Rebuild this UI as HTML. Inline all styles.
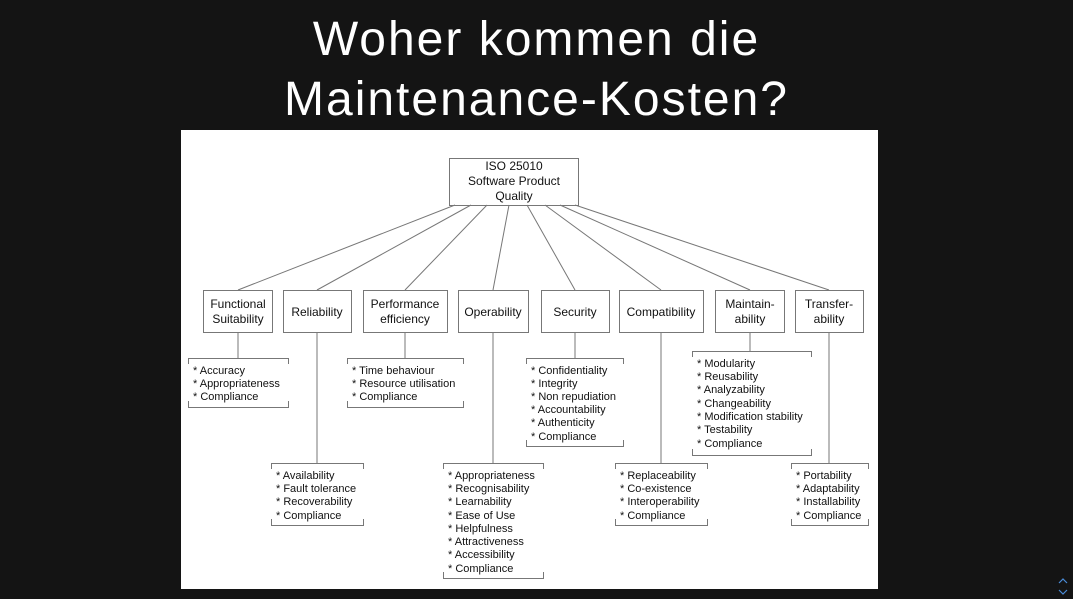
<!DOCTYPE html>
<html><head><style>
body{margin:0;width:1073px;height:599px;background:#141414;overflow:hidden;font-family:"Liberation Sans",sans-serif;}
.t{position:absolute;left:0;width:1073px;text-align:center;color:#fff;font-size:48px;letter-spacing:2px}
</style></head><body>
<div class="t" style="top:12px">Woher kommen die</div>
<div class="t" style="top:72px">Maintenance-Kosten?</div>
<svg style="position:absolute;left:0;top:0" width="1073" height="599" font-family="Liberation Sans, sans-serif">
<rect x="181" y="130" width="697" height="459" fill="#fff"/>
<g stroke="#777" stroke-width="1" fill="none">
<rect x="449.5" y="158.5" width="129" height="47"/>
<rect x="203.5" y="290.5" width="69" height="42"/>
<rect x="283.5" y="290.5" width="68" height="42"/>
<rect x="363.5" y="290.5" width="84" height="42"/>
<rect x="458.5" y="290.5" width="70" height="42"/>
<rect x="541.5" y="290.5" width="68" height="42"/>
<rect x="619.5" y="290.5" width="84" height="42"/>
<rect x="715.5" y="290.5" width="69" height="42"/>
<rect x="795.5" y="290.5" width="68" height="42"/>
<path d="M455 205L238 290M471 205L317 290M487 205L405 290M509 205L493 290M527 205L575 290M545 205L661 290M560 205L750 290M575 205L829 290"/>
<path d="M238 333V358M317 333V463M405 333V358M493 333V463M575 333V358M661 333V463M750 333V351M829 333V463"/>
<path d="M188.5 364V358.5H288.5V364M188.5 401V407.5H288.5V401"/>
<path d="M347.5 364V358.5H463.5V364M347.5 401V407.5H463.5V401"/>
<path d="M526.5 364V358.5H623.5V364M526.5 440V446.5H623.5V440"/>
<path d="M692.5 357V351.5H811.5V357M692.5 449V455.5H811.5V449"/>
<path d="M271.5 469V463.5H363.5V469M271.5 519V525.5H363.5V519"/>
<path d="M443.5 469V463.5H543.5V469M443.5 572V578.5H543.5V572"/>
<path d="M615.5 469V463.5H707.5V469M615.5 519V525.5H707.5V519"/>
<path d="M791.5 469V463.5H868.5V469M791.5 519V525.5H868.5V519"/>
</g>
<g font-size="12" fill="#111" text-anchor="middle">
<text x="514" y="170">ISO 25010</text><text x="514" y="185">Software Product</text><text x="514" y="200">Quality</text>
<text x="238" y="308">Functional</text><text x="238" y="323">Suitability</text>
<text x="317" y="316">Reliability</text>
<text x="405" y="308">Performance</text><text x="405" y="323">efficiency</text>
<text x="493" y="316">Operability</text>
<text x="575" y="316">Security</text>
<text x="661" y="316">Compatibility</text>
<text x="750" y="308">Maintain-</text><text x="750" y="323">ability</text>
<text x="829" y="308">Transfer-</text><text x="829" y="323">ability</text>
</g>
<g font-size="11" fill="#111">
<text x="193" y="374">* Accuracy</text><text x="193" y="387">* Appropriateness</text><text x="193" y="400">* Compliance</text>
<text x="352" y="374">* Time behaviour</text><text x="352" y="387">* Resource utilisation</text><text x="352" y="400">* Compliance</text>
<text x="531" y="374">* Confidentiality</text><text x="531" y="387">* Integrity</text><text x="531" y="400">* Non repudiation</text><text x="531" y="413">* Accountability</text><text x="531" y="426">* Authenticity</text><text x="531" y="440">* Compliance</text>
<text x="697" y="367">* Modularity</text><text x="697" y="380">* Reusability</text><text x="697" y="393">* Analyzability</text><text x="697" y="407">* Changeability</text><text x="697" y="420">* Modification stability</text><text x="697" y="433">* Testability</text><text x="697" y="447">* Compliance</text>
<text x="276" y="479">* Availability</text><text x="276" y="492">* Fault tolerance</text><text x="276" y="505">* Recoverability</text><text x="276" y="519">* Compliance</text>
<text x="448" y="479">* Appropriateness</text><text x="448" y="492">* Recognisability</text><text x="448" y="505">* Learnability</text><text x="448" y="519">* Ease of Use</text><text x="448" y="532">* Helpfulness</text><text x="448" y="545">* Attractiveness</text><text x="448" y="558">* Accessibility</text><text x="448" y="572">* Compliance</text>
<text x="620" y="479">* Replaceability</text><text x="620" y="492">* Co-existence</text><text x="620" y="505">* Interoperability</text><text x="620" y="519">* Compliance</text>
<text x="796" y="479">* Portability</text><text x="796" y="492">* Adaptability</text><text x="796" y="505">* Installability</text><text x="796" y="519">* Compliance</text>
</g>
<path d="M1059 583l4-4 4 4M1059 590l4 4 4-4" stroke="#4a8cd8" fill="none" stroke-width="1.2"/>
</svg>
</body></html>
